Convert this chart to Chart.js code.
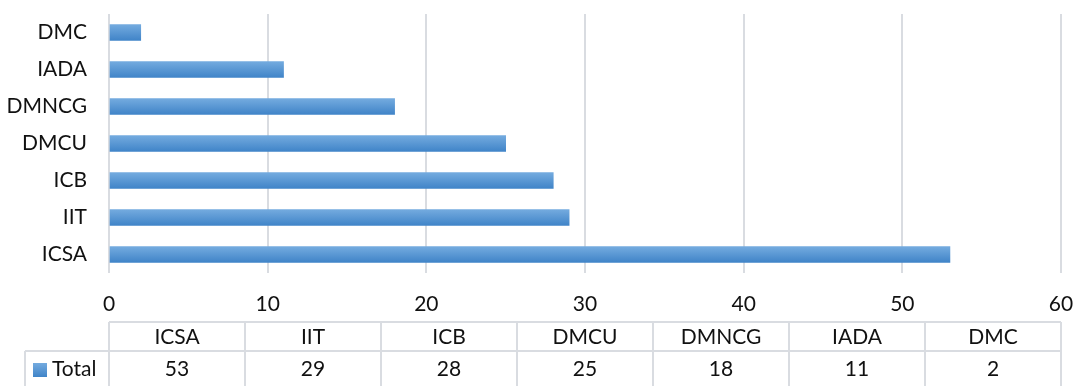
<!DOCTYPE html>
<html>
<head>
<meta charset="utf-8">
<script src="https://cdn.jsdelivr.net/npm/chart.js@4/dist/chart.umd.min.js"></script>
<style>
  body { margin: 0; background: #fff; }
</style>
</head>
<body>
<canvas id="chart" width="1074" height="386"></canvas>
<script>
// data, in table order (ICSA first = bottom bar)
const categories = ['ICSA', 'IIT', 'ICB', 'DMCU', 'DMNCG', 'IADA', 'DMC'];
const totals = [53, 29, 28, 25, 18, 11, 2];
const seriesName = 'Total';
const xTicks = [0, 10, 20, 30, 40, 50, 60];

const FONT = 'Lato, "Open Sans", sans-serif';
const lineColor = '#d9dce1';

function barGradient(c, top, bottom) {
  const g = c.createLinearGradient(0, top, 0, bottom);
  g.addColorStop(0, '#74abdf');
  g.addColorStop(1, '#4084c8');
  return g;
}

// draws the data table under the x axis
const dataTable = {
  id: 'dataTable',
  afterDraw(chart) {
    const c = chart.ctx;
    const area = chart.chartArea;
    const n = categories.length;
    const colW = (area.right - area.left) / n;
    const top = chart.scales.x.bottom;
    const mid = top + 29;
    const bot = chart.height + 2;
    const leftEdge = 25;

    c.save();
    c.strokeStyle = lineColor;
    c.lineWidth = 2;
    c.beginPath();
    c.moveTo(area.left, top); c.lineTo(area.right, top);
    c.moveTo(leftEdge, mid); c.lineTo(area.right, mid);
    c.moveTo(leftEdge, mid); c.lineTo(leftEdge, bot);
    for (let i = 0; i <= n; i++) {
      const x = area.left + i * colW;
      c.moveTo(x, top); c.lineTo(x, bot);
    }
    c.stroke();

    c.fillStyle = '#111';
    c.font = '21px ' + FONT;
    c.textAlign = 'center';
    c.textBaseline = 'middle';
    categories.forEach((cat, i) => {
      const cx = area.left + (i + 0.5) * colW;
      c.fillText(cat, cx, (top + mid) / 2 + 1);
      c.fillText(String(totals[i]), cx, mid + 18);
    });

    // legend key + series name
    c.fillStyle = barGradient(c, mid + 12, mid + 26);
    c.fillRect(33, mid + 12, 14, 14);
    c.fillStyle = '#111';
    c.textAlign = 'left';
    c.fillText(seriesName, 52, mid + 18);
    c.restore();
  }
};

new Chart(document.getElementById('chart'), {
  type: 'bar',
  data: {
    labels: categories,
    datasets: [{
      label: seriesName,
      data: totals,
      barThickness: 16,
      backgroundColor: ctx => {
        const chart = ctx.chart;
        const y = chart.scales.y;
        if (!y || ctx.type !== 'data') return '#5b9bd5';
        const cy = y.getPixelForValue(ctx.dataIndex);
        if (!isFinite(cy)) return '#5b9bd5';
        return barGradient(chart.ctx, cy - 8, cy + 8);
      }
    }]
  },
  options: {
    indexAxis: 'y',
    responsive: false,
    animation: false,
    layout: { padding: { top: 14, right: 13, bottom: 64, left: 0 } },
    plugins: {
      legend: { display: false },
      tooltip: { enabled: false }
    },
    scales: {
      x: {
        min: 0,
        max: 60,
        afterBuildTicks: axis => { axis.ticks = xTicks.map(v => ({ value: v })); },
        afterFit: axis => {
          axis.height = 49;
          axis.paddingLeft = 0;
          axis.paddingRight = 0;
        },
        grid: { color: lineColor, lineWidth: 2, drawTicks: false },
        border: { display: false },
        ticks: { color: '#111', padding: 19, font: { family: FONT, size: 21 } }
      },
      y: {
        reverse: true,
        afterFit: axis => {
          axis.width = 109;
          axis.paddingTop = 0;
          axis.paddingBottom = 0;
        },
        grid: { display: false, drawTicks: false },
        border: { display: false },
        ticks: { color: '#111', padding: 22, font: { family: FONT, size: 21 } }
      }
    }
  },
  plugins: [dataTable]
});
</script>
</body>
</html>
